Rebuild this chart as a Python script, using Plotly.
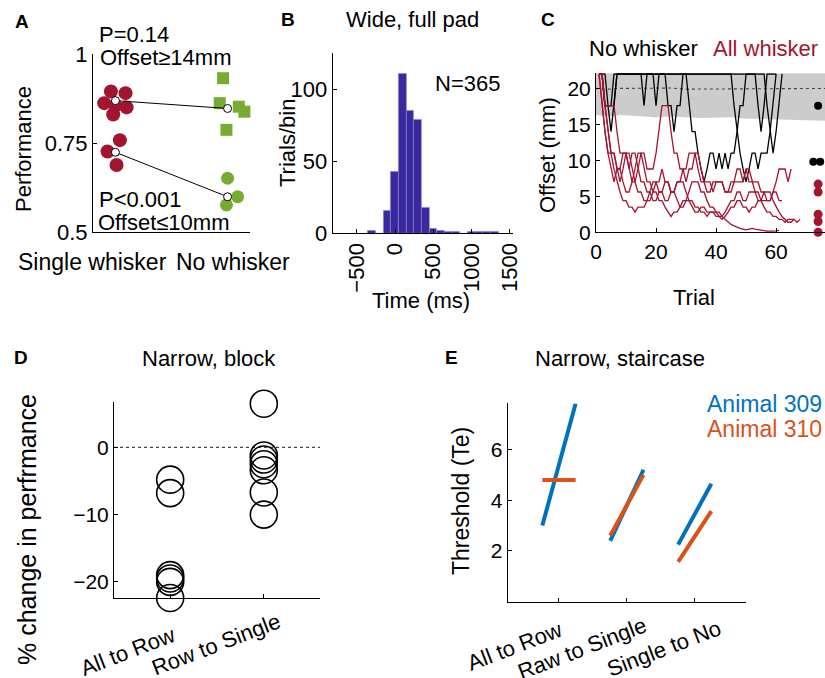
import plotly.graph_objects as go

FONT = "Liberation Sans, Arial, sans-serif"
W, H = 825, 678
RED = "#a2142f"
GREEN = "#77ac30"
HIST = "#3b2a9f"
BLUE = "#0072bd"
ORANGE = "#d95319"

# ---------------- Panel A data ----------------
a_single_hi = [0.895, 0.890, 0.862, 0.855, 0.850, 0.830]
a_single_hi_jit = [0.96, 1.09, 0.90, 1.00, 1.10, 0.98]
a_single_lo = [0.758, 0.726, 0.688]
a_single_lo_jit = [1.04, 0.93, 1.01]
a_no_hi = [0.932, 0.862, 0.852, 0.838, 0.787]
a_no_hi_jit = [1.96, 1.93, 2.10, 2.15, 1.99]
a_no_lo = [0.651, 0.599, 0.576]
a_no_lo_jit = [2.00, 2.09, 1.99]
a_mean_hi = [0.869, 0.847]
a_mean_lo = [0.724, 0.599]

# ---------------- Panel B data ----------------
b_bin_centers = [-300, -200, -100, 0, 100, 200, 300, 400, 500, 600, 700, 800, 900, 1000, 1100, 1200, 1300]
b_counts = [2, 0, 16, 43, 111, 85, 79, 18, 3, 2, 1, 1, 0, 1, 1, 1, 1]

# ---------------- Panel C data ----------------
c_band_x = [0, 4, 8, 12, 16, 20, 25, 30, 35, 40, 45, 50, 55, 60, 65, 70, 78]
c_band_lo = [16.3, 16.1, 16.3, 16.2, 16.1, 16.0, 16.1, 16.0, 15.9, 15.9, 16.0, 15.8, 15.8, 15.7, 15.7, 15.6, 15.5]
c_band_hi = [23.5, 23.6, 23.5, 23.6, 23.7, 23.6, 23.5, 23.6, 23.7, 23.6, 23.5, 23.6, 23.7, 23.6, 23.6, 23.5, 23.6]
c_band_mean = [20.0, 19.9, 20.0, 20.0, 19.95, 20.0, 20.05, 19.9, 19.9, 20.0, 19.95, 20.0, 19.9, 20.0, 20.0, 19.95, 20.0]

c_black_1 = [22, 22, 17.6, 17.6, 14, 17.6, 22, 22, 22, 22, 22, 22, 22, 22, 22, 17.6, 22, 22, 22, 17.6,
             22, 22, 22, 17.6, 17.6, 14, 17.6, 17.6, 22, 22, 17.6, 14, 14, 11, 8.8, 7, 8.8, 11, 11, 8.8,
             11, 8.8, 11, 8.8, 11, 11, 14, 17.6, 17.6, 22, 22, 22, 22, 17.6, 14, 17.6, 22, 22, 22, 22]
c_black_2 = [22, 22, 17.6, 17.6, 17.6, 17.6, 22, 22, 22, 22, 22, 22, 22, 22, 22, 22, 22, 22, 22, 22,
             22, 22, 22, 22, 22, 22, 22, 22, 22, 22, 22, 22, 22, 22, 22, 22, 22, 22, 22, 22,
             22, 22, 22, 22, 22, 17.6, 14, 11, 8.8, 7, 8.8, 11, 11, 8.8, 11, 11, 11, 14, 17.6, 22]
c_black_3 = [22, 22, 22, 17.6, 17.6, 22, 22, 22, 22, 22, 22, 22, 22, 22, 22, 22, 22, 22, 22, 22,
             22, 22, 22, 22, 22, 22, 22, 22, 22, 22, 22, 22, 22, 22, 22, 22, 22, 22, 22, 22,
             22, 22, 22, 22, 22, 22, 22, 22, 22, 22, 22, 22, 22, 22, 22, 22, 17.6, 14, 11, 14,
             17.6, 22]

c_red_1 = [22, 22, 17.6, 14, 11, 11, 8.8, 7, 8.8, 11, 11, 8.8, 7, 8.8, 11, 11, 8.8, 8.8, 8.8, 11,
           14, 17.6, 17.6, 17.6, 14, 11, 11, 8.8, 8.8, 7, 8.8, 8.8, 11, 11, 8.8, 7, 7, 7, 5.6, 7,
           7, 7, 5.6, 5.6, 7, 7, 8.8, 8.8, 7, 8.8, 8.8, 7, 5.6, 5.6, 4.4, 4.4, 4.4, 4.4, 5.6, 7,
           8.8, 8.8, 8.8, 7, 8.8]
c_red_2 = [22, 17.6, 14, 11, 8.8, 7, 8.8, 8.8, 7, 5.6, 5.6, 7, 7, 5.6, 5.6, 4.4, 4.4, 5.6, 7, 7,
           5.6, 5.6, 4.4, 4.4, 5.6, 5.6, 4.4, 3.5, 3.5, 4.4, 4.4, 3.5, 2.8, 2.8, 3.5, 3.5, 2.8, 2.8, 2.8, 2.8,
           2.2, 2.2, 1.8, 1.4, 1.1, 0.9, 0.7, 0.55, 0.45, 0.35, 0.45, 0.55, 0.45, 0.35, 0.28, 0.22, 0.18, 0.15, 0.15, 0.2,
           0.28]
c_red_3 = [22, 22, 17.6, 17.6, 17.6, 17.6, 14, 11, 11, 11, 8.8, 11, 11, 8.8, 7, 7, 5.6, 5.6, 4.4, 4.4,
           5.6, 5.6, 7, 7, 5.6, 5.6, 7, 7, 7, 5.6, 4.4, 4.4, 3.5, 3.5, 2.8, 2.8, 2.2, 2.8, 2.8, 2.2,
           2.2, 1.8, 2.2, 2.8, 3.5, 3.5, 4.4, 4.4, 3.5, 3.5, 2.8, 3.5, 3.5, 4.4, 4.4, 3.5, 2.8, 2.8, 2.2, 2.2,
           1.8, 1.8, 1.4, 1.8, 1.8, 1.8, 1.4, 1.8]
c_red_4 = [22, 17.6, 14, 11, 11, 8.8, 7, 5.6, 4.4, 4.4, 3.5, 3.5, 2.8, 3.5, 3.5, 3.5, 4.4, 4.4, 5.6, 5.6,
           4.4, 4.4, 3.5, 2.8, 2.2, 2.8, 2.8, 3.5, 4.4, 4.4, 5.6, 7, 7, 7, 5.6, 5.6, 4.4, 3.5, 3.5, 2.8,
           2.8, 2.2, 2.8, 3.5, 4.4, 4.4, 5.6, 5.6, 4.4, 4.4, 5.6, 5.6, 5.6, 4.4, 4.4, 5.6, 5.6, 5.6, 4.4, 3.5,
           2.8, 2.2, 1.8, 1.4, 1.4, 1.8]
c_red_5 = [22, 22, 17.6, 14, 11, 11, 8.8, 8.8, 11, 11, 8.8, 7, 8.8, 11, 11, 8.8, 7, 7, 5.6, 7,
           7, 8.8, 7, 7, 5.6, 5.6, 7, 7, 8.8, 8.8, 11, 11, 11, 8.8, 7, 7, 5.6, 5.6, 7, 7,
           7, 7, 5.6, 5.6, 5.6, 7, 7, 7, 7, 8.8, 7, 7, 7, 7, 5.6, 5.6, 4.4, 4.4, 5.6, 5.6,
           4.4, 4.4]

c_black_final = [17.6, 9.8, 9.8]
c_black_final_x = [74.0, 72.4, 74.7]
c_red_final = [6.7, 5.6, 2.5, 1.5, 0.0]
c_red_final_x = [74.0, 74.0, 74.0, 74.0, 74.0]

# ---------------- Panel D data ----------------
d_categories = ["All to Row", "Row to Single"]
d_all_to_row = [-4.8, -6.8, -19.0, -19.5, -20.0, -22.4]
d_row_to_single = [6.5, -1.2, -1.8, -2.5, -3.4, -6.7, -10.0]

# ---------------- Panel E data ----------------
e_categories = ["All to Row", "Raw to Single", "Single to No"]
e_309_before = [3.0, 2.4, 2.25]
e_309_after = [7.8, 5.2, 4.65]
e_310_before = [4.8, 2.6, 1.57]
e_310_after = [4.8, 5.0, 3.57]


def px_x(p):
    return p / W


def px_y(p):
    return 1 - p / H


def ann(text, px, py, size=22, color="black", xanchor="center", yanchor="middle", angle=0):
    return dict(text=text, x=px_x(px), y=px_y(py), xref="paper", yref="paper",
                xanchor=xanchor, yanchor=yanchor, showarrow=False, textangle=angle,
                borderpad=0, font=dict(family=FONT, size=size, color=color))


def axis(domain, rng, anchor, **kw):
    d = dict(domain=domain, range=rng, anchor=anchor, showline=True, linecolor="black",
             linewidth=1, showgrid=False, zeroline=False, ticks="inside", ticklen=4,
             tickcolor="black", tickwidth=1, automargin=False,
             tickfont=dict(family=FONT, size=21, color="black"), fixedrange=True)
    d.update(kw)
    return d


fig = go.Figure()

# ---- Panel A ----
fig.add_trace(go.Scatter(x=a_single_hi_jit, y=a_single_hi, mode="markers", xaxis="x", yaxis="y",
                         marker=dict(symbol="circle", size=14, color=RED), cliponaxis=False))
fig.add_trace(go.Scatter(x=a_single_lo_jit, y=a_single_lo, mode="markers", xaxis="x", yaxis="y",
                         marker=dict(symbol="circle", size=14, color=RED), cliponaxis=False))
fig.add_trace(go.Scatter(x=a_no_hi_jit, y=a_no_hi, mode="markers", xaxis="x", yaxis="y",
                         marker=dict(symbol="square", size=12, color=GREEN), cliponaxis=False))
fig.add_trace(go.Scatter(x=a_no_lo_jit, y=a_no_lo, mode="markers", xaxis="x", yaxis="y",
                         marker=dict(symbol="circle", size=13, color=GREEN), cliponaxis=False))
for means in (a_mean_hi, a_mean_lo):
    fig.add_trace(go.Scatter(x=[1, 2], y=means, mode="lines+markers", xaxis="x", yaxis="y",
                             line=dict(color="black", width=1),
                             marker=dict(symbol="circle", size=8, color="white",
                                         line=dict(color="black", width=1)),
                             cliponaxis=False))

# ---- Panel B ----
fig.add_trace(go.Bar(x=b_bin_centers, y=b_counts, width=100, xaxis="x2", yaxis="y2",
                     marker=dict(color=HIST, line=dict(width=0.6, color="#8f86d0"))))

# ---- Panel C ----
fig.add_trace(go.Scatter(x=c_band_x + c_band_x[::-1], y=c_band_hi + c_band_lo[::-1],
                         fill="toself", fillcolor="#cccccc", mode="lines",
                         line=dict(width=0, color="#cccccc"), xaxis="x3", yaxis="y3"))
fig.add_trace(go.Scatter(x=c_band_x, y=c_band_mean, mode="lines", xaxis="x3", yaxis="y3",
                         line=dict(color="#444444", width=1.1, dash="dot")))
for series in (c_black_1, c_black_2, c_black_3):
    fig.add_trace(go.Scatter(x=list(range(1, len(series) + 1)), y=series, mode="lines",
                             xaxis="x3", yaxis="y3", line=dict(color="black", width=1.3)))
for series in (c_red_1, c_red_2, c_red_3, c_red_4, c_red_5):
    fig.add_trace(go.Scatter(x=list(range(1, len(series) + 1)), y=series, mode="lines",
                             xaxis="x3", yaxis="y3", line=dict(color=RED, width=1.3)))
fig.add_trace(go.Scatter(x=c_black_final_x, y=c_black_final, mode="markers", xaxis="x3", yaxis="y3",
                         marker=dict(symbol="circle", size=8, color="black"), cliponaxis=False))
fig.add_trace(go.Scatter(x=c_red_final_x, y=c_red_final, mode="markers", xaxis="x3", yaxis="y3",
                         marker=dict(symbol="circle", size=9, color=RED), cliponaxis=False))

# ---- Panel D ----
fig.add_trace(go.Scatter(x=[1] * len(d_all_to_row), y=d_all_to_row, mode="markers",
                         xaxis="x4", yaxis="y4", cliponaxis=False,
                         marker=dict(symbol="circle-open", size=27, color="black", line=dict(width=1.6))))
fig.add_trace(go.Scatter(x=[2] * len(d_row_to_single), y=d_row_to_single, mode="markers",
                         xaxis="x4", yaxis="y4", cliponaxis=False,
                         marker=dict(symbol="circle-open", size=27, color="black", line=dict(width=1.6))))

# ---- Panel E ----
for before, after, col in ((e_309_before, e_309_after, BLUE), (e_310_before, e_310_after, ORANGE)):
    xs, ys = [], []
    for i in range(len(before)):
        xs += [i + 1 - 0.24, i + 1 + 0.25, None]
        ys += [before[i], after[i], None]
    fig.add_trace(go.Scatter(x=xs, y=ys, mode="lines", xaxis="x5", yaxis="y5",
                             line=dict(color=col, width=4), cliponaxis=False))

layout = dict(
    template="none",
    width=W, height=H, autosize=False, showlegend=False,
    margin=dict(l=0, r=0, t=0, b=0, pad=0, autoexpand=False),
    paper_bgcolor="white", plot_bgcolor="white",
    font=dict(family=FONT, size=21, color="black"),
    bargap=0,
    xaxis=axis([px_x(93), px_x(250)], [0.8, 2.2], "y", ticks="", showticklabels=False),
    yaxis=axis([px_y(232), px_y(54)], [0.5, 1.0], "x", tickvals=[0.5, 0.75, 1],
               ticktext=["0.5", "0.75", "1"], tickfont=dict(family=FONT, size=22, color="black")),
    xaxis2=axis([px_x(332.7), px_x(513)], [-813, 1540], "y2", tickvals=[-500, 0, 500, 1000, 1500],
                tickangle=-90, tickfont=dict(family=FONT, size=22, color="black")),
    yaxis2=axis([px_y(233.3), px_y(52.7)], [0, 125.4], "x2", tickvals=[0, 50, 100],
                tickfont=dict(family=FONT, size=22, color="black")),
    xaxis3=axis([px_x(596), 1.0], [0, 76.3], "y3", tickvals=[0, 20, 40, 60]),
    yaxis3=axis([px_y(232.3), px_y(73.3)], [0, 22.1], "x3", tickvals=[0, 5, 10, 15, 20]),
    xaxis4=axis([px_x(114), px_x(320)], [0.4, 2.6], "y4", tickvals=[1, 2], showticklabels=False),
    yaxis4=axis([px_y(598.3), px_y(401.7)], [-22.45, 6.8], "x4", tickvals=[-20, -10, 0]),
    xaxis5=axis([px_x(507.7), px_x(746)], [0.25, 3.76], "y5", tickvals=[1, 2, 3], showticklabels=False),
    yaxis5=axis([px_y(601.7), px_y(403.3)], [0, 7.82], "x5", tickvals=[2, 4, 6]),
    shapes=[dict(type="line", xref="x4 domain", x0=0, x1=1, yref="y4", y0=0, y1=0,
                 line=dict(color="#444444", width=1.2, dash="dot"), layer="below")],
)

annotations = [
    ann("<b>A</b>", 22, 21, size=19), ann("<b>B</b>", 288, 20, size=19), ann("<b>C</b>", 548, 20, size=19),
    ann("<b>D</b>", 21, 357, size=19), ann("<b>E</b>", 451, 357, size=19),
    ann("Wide, full pad", 412.5, 20), ann("Narrow, block", 209, 358), ann("Narrow, staircase", 620, 358),
    ann("P=0.14", 98, 34, xanchor="left"), ann("Offset≥14mm", 99, 58, xanchor="left"),
    ann("P<0.001", 98, 200, xanchor="left"), ann("Offset≤10mm", 97, 222, xanchor="left"),
    ann("Single whisker", 92, 262, size=23), ann("No whisker", 233, 262, size=23),
    ann("Performance", 24, 149, angle=-90),
    ann("Trials/bin", 287, 143, angle=-90),
    ann("Time (ms)", 421, 300),
    ann("N=365", 434, 83, xanchor="left"),
    ann("No whisker", 643, 49), ann("All whisker", 765, 49, color=RED),
    ann("Offset (mm)", 548, 155, angle=-90),
    ann("Trial", 694, 297),
    ann("% change in perfrmance", 27, 530, size=25, angle=-90),
    ann("Threshold (Te)", 461, 501, size=23, angle=-90),
    ann("Animal 309", 706, 404, size=23, color=BLUE, xanchor="left"),
    ann("Animal 310", 706, 429, size=23, color=ORANGE, xanchor="left"),
    # rotated category labels
    ann(d_categories[0], 127.5, 651, angle=-21), ann(d_categories[1], 216, 644, angle=-21),
    ann(e_categories[0], 514, 646, angle=-21), ann(e_categories[1], 582, 648, angle=-21),
    ann(e_categories[2], 664, 648, angle=-21),
]
layout["annotations"] = annotations
fig.update_layout(**layout)

fig.write_html("out.html", config={"responsive": False, "displayModeBar": False},
               post_script="document.body.style.margin='0px';document.body.style.overflow='hidden';")
